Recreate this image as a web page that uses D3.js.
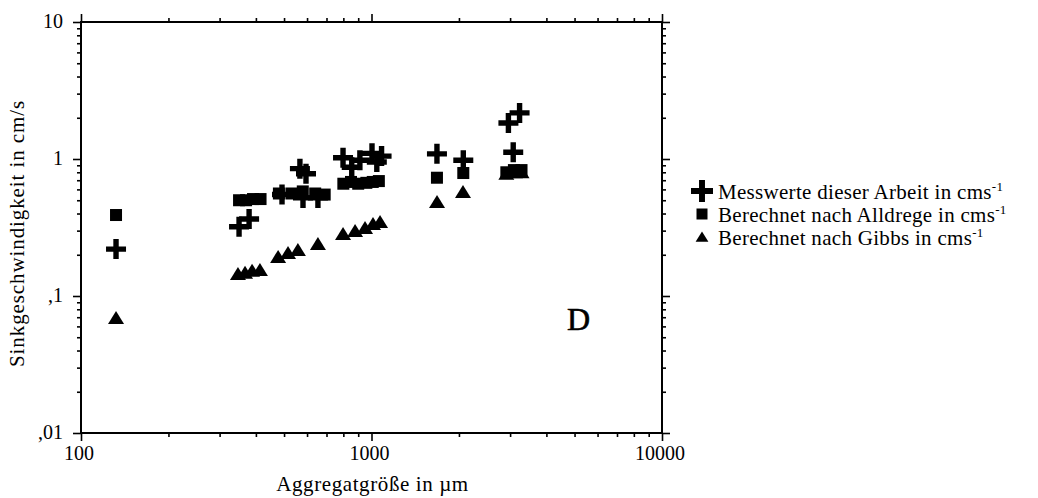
<!DOCTYPE html>
<html>
<head>
<meta charset="utf-8">
<script src="https://cdn.jsdelivr.net/npm/d3@7"></script>
<style>
  body { margin: 0; background: #fff; }
  text { font-family: "Liberation Serif", "DejaVu Serif", serif; fill: #000; }
</style>
</head>
<body>
<div class="chart"></div>
<script>
// Messwerte dieser Arbeit (plus)
var mess_x = [132, 350, 379, 492, 567, 595, 581, 654, 798, 855, 912, 1004, 1043, 1083, 1680, 2070, 2960, 3234, 3075];
var mess_y = [0.22, 0.32, 0.365, 0.55, 0.85, 0.78, 0.52, 0.52, 1.02, 0.87, 0.98, 1.1, 0.95, 1.05, 1.09, 0.98, 1.83, 2.17, 1.12];

// Berechnet nach Alldrege (square)
var alldrege_x = [132, 350, 370, 391, 415, 480, 530, 580, 640, 690, 800, 850, 900, 960, 1010, 1060, 1680, 2070, 2912, 3092, 3284];
var alldrege_y = [0.39, 0.50, 0.50, 0.51, 0.51, 0.56, 0.56, 0.58, 0.56, 0.55, 0.66, 0.68, 0.66, 0.67, 0.68, 0.69, 0.73, 0.79, 0.80, 0.83, 0.83];

// Berechnet nach Gibbs (triangle)
var gibbs_x = [132, 347, 367, 388, 413, 477, 516, 558, 654, 798, 878, 950, 1012, 1070, 1681, 2065, 2912, 3118, 3284];
var gibbs_y = [0.069, 0.145, 0.148, 0.153, 0.155, 0.193, 0.206, 0.217, 0.24, 0.284, 0.298, 0.313, 0.336, 0.347, 0.486, 0.574, 0.78, 0.80, 0.80];

var x_ticks = [100, 1000, 10000];
var x_tick_labels = ["100", "1000", "10000"];
var y_ticks = [0.01, 0.1, 1, 10];
var y_tick_labels = [",01", ",1", "1", "10"];

var legend_labels = ["Messwerte dieser Arbeit in cms", "Berechnet nach Alldrege in cms", "Berechnet nach Gibbs in cms"];

var width = 1038, height = 498;
var margin = { top: 22, right: 376, bottom: 65, left: 81 };
var w = width - margin.left - margin.right;
var h = height - margin.top - margin.bottom;

var svg = d3.select(".chart").append("svg")
    .attr("width", width)
    .attr("height", height);

var g = svg.append("g")
    .attr("transform", "translate(" + margin.left + "," + margin.top + ")");

var x = d3.scaleLog().domain([100, 10000]).range([0, w]);
var y = d3.scaleLog().domain([0.01, 10]).range([h, 0]);

// minor ticks: 2..9 of every decade
function minors(lo, hi) {
  var out = [];
  for (var p = lo; p < hi; p *= 10) {
    for (var k = 2; k <= 9; k++) out.push(p * k);
  }
  return out;
}
var x_minor = minors(100, 10000);
var y_minor = minors(0.01, 10);

function draw_axis(axis_fn, scale, transform, major, minor) {
  var a = g.append("g").attr("transform", transform);
  a.call(axis_fn(scale).tickValues(minor).tickSize(4).tickFormat(""));
  a.select(".domain").remove();
  var b = g.append("g").attr("transform", transform);
  b.call(axis_fn(scale).tickValues(major).tickSize(8).tickFormat(""));
  b.select(".domain").remove();
  g.selectAll(".tick line").attr("stroke", "#000").attr("stroke-width", 1.6);
}

draw_axis(d3.axisBottom, x, "translate(0," + h + ")", x_ticks, x_minor);
draw_axis(d3.axisTop, x, "translate(0,0)", x_ticks, x_minor);
draw_axis(d3.axisLeft, y, "translate(0,0)", y_ticks, y_minor);
draw_axis(d3.axisRight, y, "translate(" + w + ",0)", y_ticks, y_minor);

// frame
g.append("rect")
  .attr("width", w).attr("height", h)
  .attr("fill", "none").attr("stroke", "#000").attr("stroke-width", 2);

// tick labels
g.selectAll(".xlab").data(x_ticks).enter().append("text")
  .attr("x", function(d) { return x(d) - 2; })
  .attr("y", h + 27)
  .attr("text-anchor", "middle")
  .attr("font-size", "20px")
  .text(function(d, i) { return x_tick_labels[i]; });

g.selectAll(".ylab").data(y_ticks).enter().append("text")
  .attr("x", -18)
  .attr("y", function(d) { return y(d) + 6; })
  .attr("text-anchor", "end")
  .attr("font-size", "20px")
  .text(function(d, i) { return y_tick_labels[i]; });

// axis titles
g.append("text")
  .attr("x", w / 2 + 1).attr("y", h + 58)
  .attr("text-anchor", "middle")
  .attr("font-size", "21px")
  .attr("letter-spacing", "0.6px")
  .text("Aggregatgröße in µm");

g.append("text")
  .attr("transform", "translate(" + (-57) + "," + (h / 2 + 6) + ") rotate(-90)")
  .attr("text-anchor", "middle")
  .attr("font-size", "21px")
  .attr("letter-spacing", "0.9px")
  .text("Sinkgeschwindigkeit in cm/s");

// marker shapes
var plus_path = "M-10,-2.7H-2.7V-10H2.7V-2.7H10V2.7H2.7V10H-2.7V2.7H-10Z";
var tri_path = "M0,-7L8,6L-8,6Z";

function pts(xs, ys) {
  return xs.map(function(d, i) { return [d, ys[i]]; });
}

g.selectAll(".tri").data(pts(gibbs_x, gibbs_y)).enter().append("path")
  .attr("d", tri_path)
  .attr("transform", function(d) { return "translate(" + x(d[0]) + "," + y(d[1]) + ")"; })
  .attr("fill", "#000");

g.selectAll(".sq").data(pts(alldrege_x, alldrege_y)).enter().append("rect")
  .attr("x", function(d) { return x(d[0]) - 6; })
  .attr("y", function(d) { return y(d[1]) - 6; })
  .attr("width", 12).attr("height", 12)
  .attr("fill", "#000");

g.selectAll(".plus").data(pts(mess_x, mess_y)).enter().append("path")
  .attr("d", plus_path)
  .attr("transform", function(d) { return "translate(" + x(d[0]) + "," + y(d[1]) + ")"; })
  .attr("fill", "#000");

// D label
g.append("text")
  .attr("x", 486).attr("y", 308)
  .attr("font-size", "32px")
  .attr("stroke", "#000").attr("stroke-width", 0.6)
  .text("D");

// legend
var leg = svg.append("g").attr("transform", "translate(702,191)");
var shapes = [plus_path, null, tri_path];
legend_labels.forEach(function(lbl, i) {
  var row = leg.append("g").attr("transform", "translate(0," + (i * 23) + ")");
  if (i === 1) {
    row.append("rect").attr("x", -5.5).attr("y", -5.5).attr("width", 11).attr("height", 11).attr("fill", "#000");
  } else {
    row.append("path").attr("d", shapes[i]).attr("fill", "#000")
      .attr("transform", i === 0 ? "scale(1.1)" : "scale(0.8)");
  }
  var t = row.append("text").attr("x", 16).attr("y", 7.5).attr("font-size", "21px")
    .attr("letter-spacing", "0.3px");
  t.append("tspan").text(lbl);
  t.append("tspan").attr("dy", -8).attr("font-size", "13px").text("-1");
});
</script>
</body>
</html>
